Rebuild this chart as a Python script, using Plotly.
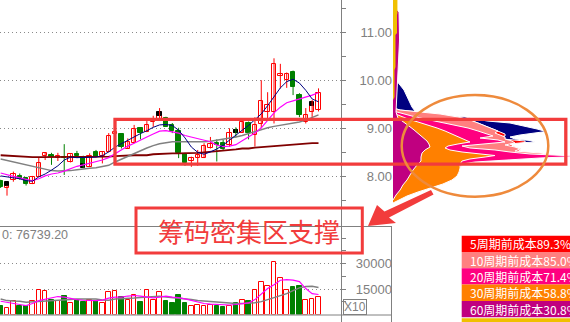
import plotly.graph_objects as go

W, H = 570, 322

# ---------------- data ----------------
open_ = [7.90, 7.765, 7.925, 8.015, 7.97, 7.84, 7.99, 8.43, 8.445, 8.38, 8.41, 8.29, 8.47, 8.39, 8.20, 8.50, 8.43, 8.50, 8.88, 8.875,
         8.58, 8.69, 9.00, 8.92, 9.125, 9.17, 9.21, 9.07, 8.94, 8.46, 8.33, 8.38, 8.38, 8.60, 8.69, 8.70, 8.65, 8.965, 8.91, 9.10,
         8.86, 9.09, 9.34, 9.34, 10.09, 10.00, 10.16, 9.69, 9.14, 9.34, 9.37]
high = [7.93, 7.81, 8.10, 8.06, 7.99, 8.01, 8.40, 8.49, 8.49, 8.49, 8.67, 8.46, 8.53, 8.43, 8.48, 8.55, 8.51, 8.90, 8.93, 8.90,
        8.79, 9.07, 9.00, 9.15, 9.26, 9.42, 9.24, 9.11, 9.01, 8.49, 8.41, 8.55, 8.69, 8.82, 8.77, 8.76, 9.00, 9.02, 9.16, 9.14,
        9.23, 10.00, 9.75, 10.455, 10.34, 10.16, 10.20, 9.73, 9.42, 9.59, 9.83]
low = [7.76, 7.60, 7.89, 7.93, 7.81, 7.84, 7.99, 8.34, 8.24, 8.32, 8.03, 8.29, 8.38, 8.17, 8.20, 8.41, 8.27, 8.50, 8.88, 8.58,
       8.58, 8.69, 8.77, 8.92, 9.03, 9.17, 9.03, 8.90, 8.38, 8.22, 8.20, 8.22, 8.38, 8.58, 8.31, 8.55, 8.62, 8.81, 8.91, 8.77,
       8.62, 9.00, 9.21, 9.10, 9.83, 9.84, 9.69, 9.23, 9.10, 9.21, 9.35]
close = [7.79, 7.81, 8.04, 7.95, 7.84, 7.98, 8.27, 8.49, 8.40, 8.42, 8.39, 8.46, 8.42, 8.25, 8.42, 8.41, 8.51, 8.83, 8.93, 8.62,
         8.72, 8.98, 8.90, 9.07, 9.19, 9.255, 9.03, 8.94, 8.48, 8.27, 8.38, 8.445, 8.64, 8.67, 8.65, 8.58, 8.91, 8.90, 9.14, 8.90,
         9.07, 9.57, 9.48, 10.33, 10.13, 10.13, 9.85, 9.28, 9.28, 9.47, 9.73]

# black marker candles
black_idx = [1, 13, 25, 37, 49]
black_top = [7.89, 8.25, 9.345, 8.965, 9.55]
black_bot = [7.80, 8.17, 9.255, 8.90, 9.47]

ma5 = [8.01, 7.99, 7.97, 7.95, 7.91, 7.90, 7.99, 8.05, 8.13, 8.22, 8.34, 8.40, 8.39, 8.39, 8.39, 8.40, 8.43, 8.51, 8.61, 8.68,
       8.76, 8.82, 8.89, 8.95, 9.02, 9.07, 9.08, 9.06, 8.96, 8.80, 8.61, 8.50, 8.46, 8.51, 8.57, 8.65, 8.76, 8.87, 8.96, 9.06,
       9.17, 9.30, 9.47, 9.66, 9.84, 9.97, 10.02, 9.94, 9.79, 9.61, 9.55]
ma10 = [8.07, 8.03, 8.00, 7.97, 7.94, 7.91, 7.95, 8.01, 8.05, 8.07, 8.11, 8.16, 8.21, 8.24, 8.27, 8.30, 8.34, 8.39, 8.47, 8.55,
        8.63, 8.69, 8.76, 8.82, 8.88, 8.94, 8.95, 8.93, 8.90, 8.85, 8.82, 8.79, 8.76, 8.72, 8.65, 8.62, 8.63, 8.66, 8.74, 8.82,
        8.90, 9.01, 9.17, 9.32, 9.44, 9.53, 9.57, 9.61, 9.64, 9.69, 9.74]
ma20 = [8.36, 8.33, 8.31, 8.28, 8.25, 8.22, 8.18, 8.15, 8.12, 8.11, 8.11, 8.12, 8.14, 8.16, 8.17, 8.18, 8.20, 8.23, 8.30, 8.36,
        8.41, 8.47, 8.53, 8.59, 8.64, 8.68, 8.70, 8.72, 8.72, 8.72, 8.72, 8.71, 8.72, 8.73, 8.75, 8.77, 8.79, 8.82, 8.85, 8.89,
        8.94, 8.98, 9.01, 9.04, 9.06, 9.08, 9.11, 9.13, 9.17, 9.22, 9.28]
ma60 = [8.44, 8.43, 8.42, 8.41, 8.40, 8.40, 8.40, 8.40, 8.40, 8.40, 8.40, 8.40, 8.40, 8.40, 8.41, 8.41, 8.41, 8.41, 8.42, 8.43,
        8.43, 8.44, 8.44, 8.44, 8.46, 8.47, 8.48, 8.48, 8.48, 8.48, 8.49, 8.49, 8.50, 8.51, 8.52, 8.53, 8.54, 8.56, 8.58, 8.58,
        8.60, 8.61, 8.63, 8.64, 8.65, 8.66, 8.67, 8.68, 8.68, 8.69, 8.69]

volume = [5300, 3900, 7800, 5300, 4900, 8200, 14700, 14100, 8800, 7800, 11200, 6900, 8800, 7200, 8800, 8200, 6900, 13300, 14100, 10200,
          8800, 11300, 7200, 14700, 8800, 13300, 7800, 6500, 11800, 6500, 5300, 5900, 5300, 5900, 4900, 4300, 5300, 6900, 8400, 7800,
          14700, 19200, 17000, 31000, 21600, 14700, 16100, 17000, 8800, 9400, 10200]
vol_ma5 = [7800, 7100, 6200, 5900, 5300, 6500, 8200, 9100, 10000, 10600, 10300, 9400, 8800, 8400, 8200, 8200, 8500, 9700, 10200, 10300,
           10900, 11200, 10800, 10300, 9800, 10300, 10800, 10300, 10000, 9200, 8200, 7400, 6500, 6100, 5900, 5600, 5600, 5900, 6200, 6800,
           8800, 12300, 15300, 17600, 20200, 20600, 20300, 19400, 15300, 12300, 11800]
vol_ma10 = [9200, 8200, 7900, 7800, 7200, 7400, 7500, 7800, 8200, 8400, 8400, 8800, 9200, 9200, 9200, 9200, 8500, 8400, 9100, 9200,
            9200, 9700, 10000, 10300, 10600, 10800, 10300, 10000, 9700, 9200, 8800, 8200, 7900, 7600, 7200, 6800, 6500, 6500, 6500, 6500,
            6900, 7600, 8800, 10000, 10900, 12300, 14100, 15700, 16500, 16600, 15900]

price_ticks = [8, 9, 10, 11]
price_ticktext = ["8.00", "9.00", "10.00", "11.00"]
vol_ticks = [15000, 30000]
vol_ticktext = ["15000", "30000"]
vol_label = "0: 76739.20"

# chip distribution (price level, relative chip amount)
navy_p = [10.046, 10.004, 9.796, 9.588, 9.443, 9.360, 9.318, 9.276, 9.235, 9.193, 9.152, 9.110, 9.048, 8.985, 8.933, 8.902,
          8.861, 8.819, 8.777, 8.746, 8.715, 8.684, 8.632]
navy_w = [0, 1.7, 6.2, 9.0, 10.7, 12.4, 19.2, 28.2, 40.7, 47.5, 53.1, 66.1, 74.6, 81.4, 86.4, 79.1,
          71.8, 66.1, 68.9, 77.4, 80.2, 66.1, 0]
lower_p = [8.175, 8.092, 8.008, 7.925, 7.842, 7.759, 7.676, 7.592, 7.509, 7.447]
lower_w = [37.9, 37.3, 36.2, 33.3, 28.2, 20.9, 14.1, 7.9, 2.8, 0]
red_p = [9.422, 9.380, 9.339, 9.297, 9.235, 9.173, 9.110, 9.048, 8.985, 8.944, 8.902, 8.881, 8.840, 8.798, 8.767, 8.736,
         8.705, 8.674, 8.611, 8.580, 8.549, 8.518, 8.486, 8.445, 8.403, 8.372, 8.341, 8.299, 8.258, 8.216] + lower_p
red_w = [0, 4.0, 15.3, 26.6, 36.7, 43.5, 48.0, 52.0, 55.9, 59.3, 61.0, 63.3, 63.3, 57.6, 65.0, 74.6,
         74.6, 66.1, 68.9, 72.0, 72.0, 70.6, 83.1, 92.0, 95.0, 75.0, 66.5, 49.5, 39.7, 38.9] + lower_w
salmon_p = [9.422, 9.380, 9.339, 9.297, 9.235, 9.173, 9.110, 9.048, 8.985, 8.944, 8.902, 8.861, 8.819, 8.777, 8.736, 8.694,
            8.653, 8.611, 8.570, 8.528, 8.486, 8.445, 8.403, 8.372, 8.341, 8.299, 8.258, 8.216] + lower_p
salmon_w = [0, 4.0, 15.3, 26.6, 36.7, 43.5, 48.0, 52.0, 55.9, 59.3, 57.6, 60.5, 63.3, 63.3, 67.2, 68.9,
            63.3, 68.9, 71.8, 68.9, 83.1, 91.5, 94.4, 74.6, 66.1, 49.2, 39.5, 38.7] + lower_w
pink_p = [9.360, 9.318, 9.255, 9.193, 9.131, 9.069, 9.006, 8.944, 8.881, 8.840, 8.798, 8.757, 8.715, 8.674, 8.632, 8.590,
          8.549, 8.507, 8.466, 8.434, 8.414, 8.383, 8.341, 8.299, 8.258, 8.216] + lower_p
pink_w = [0, 4.0, 10.7, 18.1, 26.6, 35.0, 42.4, 48.0, 53.1, 56.5, 49.2, 59.3, 63.3, 49.2, 39.0, 43.5,
          57.6, 66.1, 77.4, 97.2, 105.6, 83.1, 63.3, 46.3, 39.0, 38.4] + lower_w
orange_p = [9.318, 9.255, 9.193, 9.131, 9.069, 9.006, 8.944, 8.881, 8.819, 8.757, 8.715, 8.674, 8.632, 8.590, 8.549, 8.507,
            8.466, 8.434, 8.403, 8.362, 8.320, 8.258] + lower_p
orange_w = [0, 4.0, 8.5, 14.1, 19.8, 24.9, 29.4, 33.3, 37.9, 41.8, 43.5, 36.7, 31.1, 29.4, 32.2, 39.0,
            48.0, 57.6, 52.0, 43.5, 39.0, 37.9] + lower_w
purple_p = [11.563, 11.417, 10.836, 10.420, 10.004, 9.588, 9.339, 9.214, 9.131, 9.048, 8.965, 8.881, 8.798, 8.736, 8.674,
            8.611, 8.549, 8.486, 8.403, 8.320, 8.237, 8.133, 8.029, 7.925, 7.821, 7.717, 7.613, 7.530, 7.509]
purple_w = [0, 3.4, 3.7, 3.1, 2.5, 1.7, 1.7, 2.8, 5.6, 9.0, 11.9, 14.7, 16.9, 19.2, 20.3,
            20.9, 18.1, 16.4, 15.8, 15.8, 13.6, 11.3, 9.6, 7.9, 5.6, 4.0, 1.7, 0.6, 0]
yellow_p = [11.667, 11.667, 11.397, 11.356, 10.981, 10.940, 10.274, 10.212, 9.651, 9.588]
yellow_w = [0, 2.5, 2.5, 2.26, 2.26, 1.4, 1.4, 0.85, 0.85, 0]

legend_labels = ["5周期前成本89.3%", "10周期前成本85.0%", "20周期前成本71.4%", "30周期前成本58.8%", "60周期前成本30.8%"]
legend_colors = ["#FF0000", "#FF8080", "#FF0080", "#FF8000", "#C00080"]
callout_text = "筹码密集区支撑"

# ---------------- helpers (layout pixel -> paper) ----------------
def px(x):
    return x / W

def py(y):
    return 1 - y / H

PRICE_RANGE = [6.948, 11.667]
X_RANGE = [-0.1022, 53.54]
VOL_RANGE = [0, 51625]
RED = "#FF0000"
GREEN = "#008000"
GREY = "#808080"

idx = list(range(len(open_)))
up = [c >= o for o, c in zip(open_, close)]

fig = go.Figure()

# wicks
for cond, col in [(True, RED), (False, GREEN)]:
    xs, ys = [], []
    for i in idx:
        if up[i] == cond:
            xs += [i, i, None]
            ys += [low[i], high[i], None]
    fig.add_trace(go.Scatter(x=xs, y=ys, mode="lines", line=dict(color=col, width=1),
                             xaxis="x", yaxis="y", hoverinfo="skip"))

# bodies
for cond, fill, col in [(True, "white", RED), (False, GREEN, GREEN)]:
    bx = [i for i in idx if up[i] == cond]
    base = [min(open_[i], close[i]) for i in bx]
    hgt = [max(abs(close[i] - open_[i]), 0.015) for i in bx]
    fig.add_trace(go.Bar(x=bx, y=hgt, base=base, width=0.68,
                         marker=dict(color=fill, line=dict(color=col, width=1)),
                         xaxis="x", yaxis="y", hoverinfo="skip"))

# black markers
fig.add_trace(go.Bar(x=black_idx, y=[t - b for t, b in zip(black_top, black_bot)], base=black_bot, width=0.68,
                     marker=dict(color="black", line=dict(color="black", width=1)),
                     xaxis="x", yaxis="y", hoverinfo="skip"))

# MAs
for arr, col, wd in [(ma60, "#800000", 1.8), (ma20, "#808080", 1.5), (ma10, "#FF00FF", 1.2), (ma5, "#000080", 1.0)]:
    fig.add_trace(go.Scatter(x=idx, y=arr, mode="lines", line=dict(color=col, width=wd),
                             xaxis="x", yaxis="y", hoverinfo="skip"))

# volume
for cond, fill, col in [(True, "white", RED), (False, GREEN, GREEN)]:
    bx = [i for i in idx if up[i] == cond]
    fig.add_trace(go.Bar(x=bx, y=[volume[i] for i in bx], width=0.72,
                         marker=dict(color=fill, line=dict(color=col, width=1)),
                         xaxis="x3", yaxis="y4", hoverinfo="skip"))
for arr, col, wd in [(vol_ma10, "#808080", 1.5), (vol_ma5, "#FF00FF", 1.2)]:
    fig.add_trace(go.Scatter(x=idx, y=arr, mode="lines", line=dict(color=col, width=wd),
                             xaxis="x3", yaxis="y4", hoverinfo="skip"))

# invisible helpers so that the label axes are drawn
fig.add_trace(go.Scatter(x=[0], y=[price_ticks[0]], mode="markers", marker=dict(opacity=0),
                         xaxis="x", yaxis="y2", hoverinfo="skip"))
fig.add_trace(go.Scatter(x=[0], y=[vol_ticks[0]], mode="markers", marker=dict(opacity=0),
                         xaxis="x3", yaxis="y5", hoverinfo="skip"))

# chip distribution
for pp, ww, col, lw in [(navy_p, navy_w, "#000080", 1), (red_p, red_w, "#FF0000", 1), (salmon_p, salmon_w, "#FF8080", 1),
                        (pink_p, pink_w, "#FF0080", 1), (orange_p, orange_w, "#FF8000", 1),
                        (purple_p, purple_w, "#C00080", 1), (yellow_p, yellow_w, "#F0C000", 0)]:
    fig.add_trace(go.Scatter(x=ww, y=pp, mode="lines", fill="toself", fillcolor=col,
                             line=dict(color="white", width=lw), xaxis="x2", yaxis="y3", hoverinfo="skip"))

axis_off = dict(visible=False, fixedrange=True)
tickfont = dict(family="Liberation Sans, Arial", size=13, color=GREY)

fig.update_layout(
    width=W, height=H, margin=dict(l=0, r=0, t=0, b=0),
    paper_bgcolor="white", plot_bgcolor="white",
    showlegend=False, barmode="overlay", bargap=0,
    xaxis=dict(domain=[0, px(341)], range=X_RANGE, anchor="y", **axis_off),
    xaxis2=dict(domain=[px(393), 1], range=[0, 100], anchor="y3", **axis_off),
    xaxis3=dict(domain=[0, px(341)], range=X_RANGE, anchor="y4", **axis_off),
    yaxis=dict(domain=[py(227), 1], range=PRICE_RANGE, side="right", anchor="x",
               tickvals=price_ticks, showticklabels=False, ticks="outside", ticklen=4, tickcolor=GREY,
               showgrid=True, gridcolor="#8a8a8a", griddash="1px,3px", gridwidth=1,
               zeroline=False, showline=False,
               minor=dict(tickvals=[7.5, 8.5, 9.5, 10.5, 11.5], ticks="outside", ticklen=4, tickcolor=GREY, showgrid=False)),
    yaxis2=dict(overlaying="y", side="left", anchor="free", position=px(392), range=PRICE_RANGE,
                tickvals=price_ticks, ticktext=price_ticktext, ticks="", showgrid=False, zeroline=False,
                showline=False, tickfont=tickfont),
    yaxis3=dict(domain=[py(227), 1], range=PRICE_RANGE, anchor="x2", **axis_off),
    yaxis4=dict(domain=[py(314.5), py(227)], range=VOL_RANGE, side="right", anchor="x3",
                tickvals=vol_ticks, showticklabels=False, ticks="outside", ticklen=4, tickcolor=GREY,
                showgrid=True, gridcolor="#8a8a8a", griddash="1px,3px", gridwidth=1,
                zeroline=False, showline=False,
                minor=dict(tickvals=[7500, 22500, 37500, 45000], ticks="outside", ticklen=4, tickcolor=GREY, showgrid=False)),
    yaxis5=dict(overlaying="y4", side="left", anchor="free", position=px(392), range=VOL_RANGE,
                tickvals=vol_ticks, ticktext=vol_ticktext, ticks="", showgrid=False, zeroline=False,
                showline=False, tickfont=tickfont),
)

shapes = []
def line(x0, y0, x1, y1, col=GREY, w=1):
    shapes.append(dict(type="line", xref="paper", yref="paper", x0=px(x0), y0=py(y0), x1=px(x1), y1=py(y1),
                       line=dict(color=col, width=w)))

line(341.5, 0, 341.5, 322)
line(391.5, 226.5, 391.5, 322)
line(0, 226.5, 392, 226.5)
line(0, 315, 392, 315)

ACC = "#F23C3C"
shapes.append(dict(type="rect", xref="paper", yref="paper", x0=px(115), x1=px(565.8), y0=py(119.3), y1=py(164.2),
                   line=dict(color=ACC, width=3.3)))
shapes.append(dict(type="rect", xref="paper", yref="paper", x0=px(136), x1=px(362.3), y0=py(208), y1=py(253),
                   line=dict(color=ACC, width=3)))
shapes.append(dict(type="circle", xref="paper", yref="paper", x0=px(401.7), x1=px(548.3), y0=py(95), y1=py(196.7),
                   line=dict(color="#EE8A3C", width=2.5)))
arrow_pts = [(368, 226), (377, 205), (384.5, 211.5), (431, 190), (433.5, 194.5), (389, 217.5), (396, 223)]
path = "M " + " L ".join(f"{px(a):.5f},{py(b):.5f}" for a, b in arrow_pts) + " Z"
shapes.append(dict(type="path", xref="paper", yref="paper", path=path, fillcolor=ACC, line=dict(color=ACC, width=0)))

row_top = 235.7
row_h = 16.3
for k, col in enumerate(legend_colors):
    shapes.append(dict(type="rect", xref="paper", yref="paper", x0=px(461.7), x1=px(575),
                       y0=py(row_top + k * row_h), y1=py(row_top + (k + 1) * row_h),
                       fillcolor=col, line=dict(width=0)))
shapes.append(dict(type="rect", xref="paper", yref="paper", x0=px(461.7), x1=px(575),
                   y0=py(row_top + 5 * row_h + 1), y1=py(325), fillcolor="#F0C000", line=dict(width=0)))

annotations = []
for k, lab in enumerate(legend_labels):
    annotations.append(dict(xref="paper", yref="paper", x=px(467.5), y=py(row_top + (k + 0.5) * row_h),
                            xanchor="left", yanchor="middle", text=lab, showarrow=False,
                            font=dict(family="Noto Sans CJK SC", size=12, color="white")))
annotations.append(dict(xref="paper", yref="paper", x=px(248.5), y=py(230), xanchor="center", yanchor="middle",
                        text=callout_text, showarrow=False,
                        font=dict(family="Noto Sans CJK SC", size=26, color=ACC)))
annotations.append(dict(xref="paper", yref="paper", x=0, y=py(235), xanchor="left", yanchor="middle",
                        text=vol_label, showarrow=False, font=dict(family="Liberation Sans, Arial", size=12.5, color=GREY)))
annotations.append(dict(xref="paper", yref="paper", x=px(354.5), y=py(306.5), xanchor="center", yanchor="middle",
                        text="X10", showarrow=False, bordercolor=GREY, borderwidth=1, borderpad=0,
                        font=dict(family="Liberation Sans, Arial", size=12, color=GREY)))

fig.update_layout(shapes=shapes, annotations=annotations)
fig.write_html("out.html")
